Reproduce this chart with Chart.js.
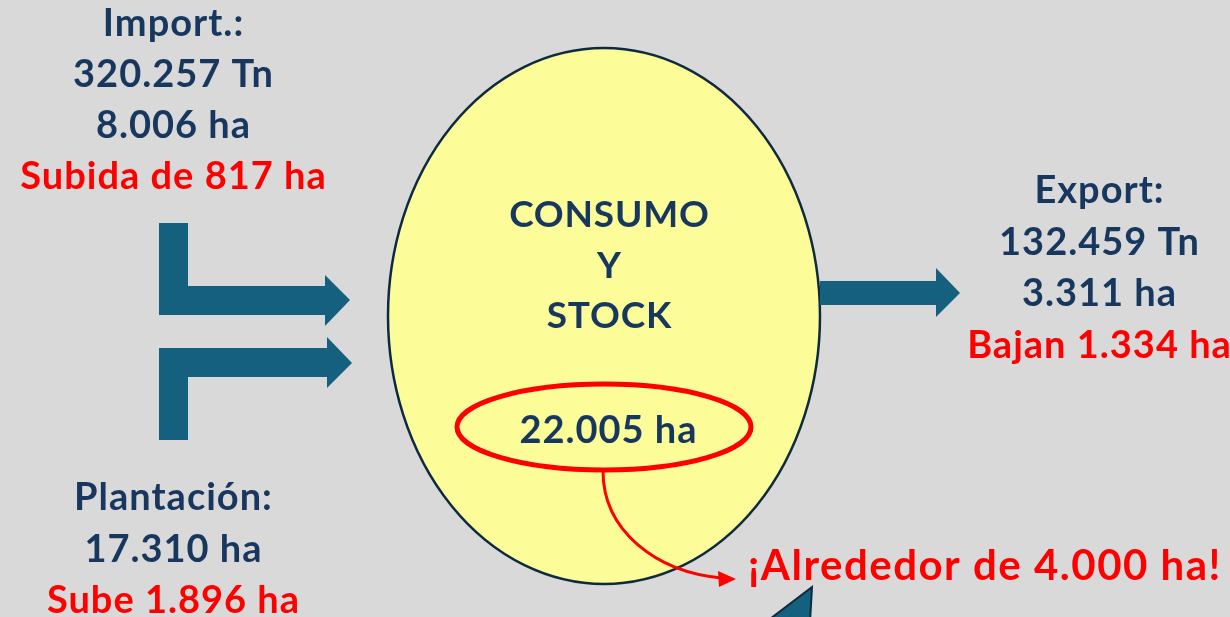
<!DOCTYPE html>
<html>
<head>
<meta charset="utf-8">
<script src="https://cdn.jsdelivr.net/npm/chart.js@4.4.0/dist/chart.umd.min.js"></script>
<style>
  html, body { margin: 0; padding: 0; background: #d9d9d9; }
  #wrap { width: 1230px; height: 617px; }
</style>
</head>
<body>
<div id="wrap"><canvas id="flow" width="1230" height="617"></canvas></div>
<script>
// textos del diagrama
const importLines = ['Import.:', '320.257 Tn', '8.006 ha', 'Subida de 817 ha'];
const exportLines = ['Export:', '132.459 Tn', '3.311 ha', 'Bajan 1.334 ha'];
const plantLines = ['Plantación:', '17.310 ha', 'Sube 1.896 ha'];
const centerLines = ['CONSUMO', 'Y', 'STOCK'];
const stockLabel = '22.005 ha';
const noteLabel = '¡Alrededor de 4.000 ha!';

const BLUE = '#17375e';
const RED = '#ff0000';
const ARROW = '#15607f';
const FONT = 'Lato, "Open Sans", sans-serif';

// dibuja el diagrama en coordenadas de las escalas
const diagramPlugin = {
    id: 'diagram',
    beforeDraw(chart) {
        const ctx = chart.ctx;
        ctx.save();
        ctx.fillStyle = '#d9d9d9';
        ctx.fillRect(0, 0, chart.width, chart.height);
        ctx.restore();
    },
    afterDraw(chart) {
        const ctx = chart.ctx;
        const sx = chart.scales.x, sy = chart.scales.y;
        const X = v => sx.getPixelForValue(v);
        const Y = v => sy.getPixelForValue(v);
        const W = v => Math.abs(X(v) - X(0));
        const H = v => Math.abs(Y(v) - Y(0));

        const poly = (pts, fill, stroke) => {
            ctx.beginPath();
            pts.forEach((p, i) => i ? ctx.lineTo(X(p[0]), Y(p[1])) : ctx.moveTo(X(p[0]), Y(p[1])));
            ctx.closePath();
            ctx.fillStyle = fill;
            ctx.fill();
            if (stroke) {
                ctx.strokeStyle = stroke;
                ctx.lineWidth = 2;
                ctx.stroke();
            }
        };

        const lines = (arr, cx, baseline, step, colors, size, spacing) => {
            ctx.font = `bold ${size}px ${FONT}`;
            ctx.letterSpacing = spacing + 'px';
            ctx.textAlign = 'center';
            ctx.textBaseline = 'alphabetic';
            arr.forEach((t, i) => {
                ctx.fillStyle = colors[i] || BLUE;
                ctx.fillText(t, X(cx) + spacing / 2, Y(baseline + i * step));
            });
            ctx.letterSpacing = '0px';
        };

        ctx.save();

        // elipse principal
        ctx.beginPath();
        ctx.ellipse(X(604), Y(316), W(216), H(268), 0, 0, Math.PI * 2);
        ctx.fillStyle = '#fcfc99';
        ctx.fill();
        ctx.strokeStyle = '#0e2a3e';
        ctx.lineWidth = 2.5;
        ctx.stroke();

        // flechas de entrada
        poly([[159, 223], [188, 223], [188, 286], [325, 286], [325, 275], [350, 300],
              [325, 326], [325, 315], [159, 315]], ARROW);
        poly([[159, 440], [188, 440], [188, 377], [327, 377], [327, 388], [352, 363],
              [327, 337], [327, 348], [159, 348]], ARROW);
        // flecha de salida
        poly([[820, 281], [936, 281], [936, 268], [960, 293], [936, 317], [936, 305], [820, 305]], ARROW);
        // punta de la llamada inferior
        poly([[812, 587], [766, 622], [810, 622]], ARROW, '#0e2a3e');

        // elipse roja
        ctx.beginPath();
        ctx.ellipse(X(604), Y(427), W(147), H(43), 0, 0, Math.PI * 2);
        ctx.strokeStyle = RED;
        ctx.lineWidth = 5;
        ctx.stroke();

        // flecha curva roja
        ctx.beginPath();
        ctx.moveTo(X(603), Y(471));
        ctx.bezierCurveTo(X(603), Y(530), X(655), Y(572), X(722), Y(578));
        ctx.lineWidth = 3;
        ctx.stroke();
        poly([[736, 579], [718, 571], [719, 587]], RED);

        // textos
        lines(importLines, 173, 36, 51, [BLUE, BLUE, BLUE, RED], 38, 1);
        lines(exportLines, 1099, 203, 51.5, [BLUE, BLUE, BLUE, RED], 38, 1);
        lines(plantLines, 173, 510, 51.5, [BLUE, BLUE, RED], 38, 1);
        lines(centerLines, 609, 227, 50.5, [], 37, 0.8);
        lines([stockLabel], 608, 443, 0, [], 38, 1);

        ctx.font = `bold 42px ${FONT}`;
        ctx.letterSpacing = '1.5px';
        ctx.textAlign = 'left';
        ctx.fillStyle = RED;
        ctx.fillText(noteLabel, X(748), Y(580));

        ctx.restore();
    }
};

new Chart(document.getElementById('flow'), {
    type: 'scatter',
    data: { datasets: [] },
    options: {
        responsive: false,
        animation: false,
        layout: { padding: 0 },
        plugins: { legend: { display: false }, tooltip: { enabled: false } },
        scales: {
            x: { type: 'linear', min: 0, max: 1230, display: false },
            y: { type: 'linear', min: 0, max: 617, reverse: true, display: false }
        }
    },
    plugins: [diagramPlugin]
});
</script>
</body>
</html>
